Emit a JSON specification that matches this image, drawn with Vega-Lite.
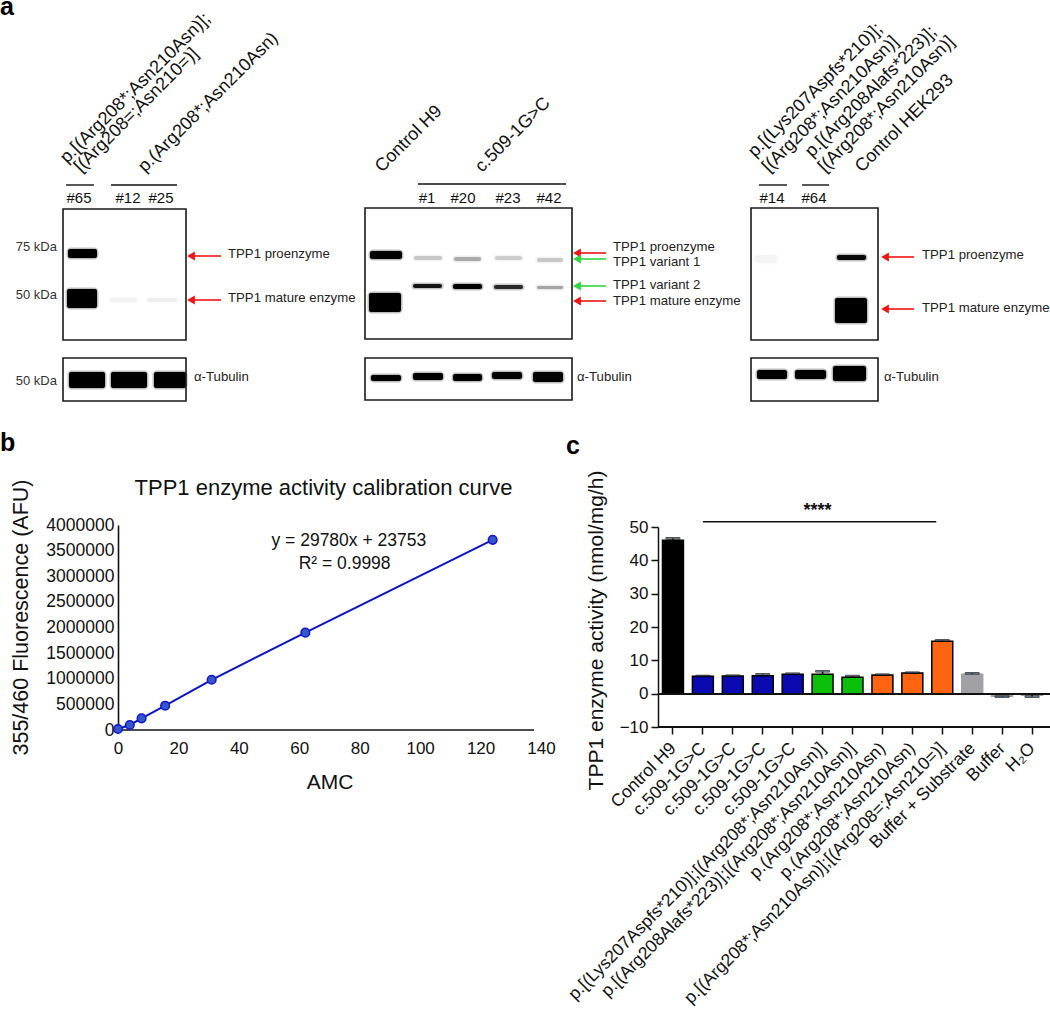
{"$schema":"https://vega.github.io/schema/vega-lite/v6.json","background":"white","padding":{"left":0,"top":-5,"right":0,"bottom":0},"bounds":"flush","spacing":62,"resolve":{"scale":{"color":"independent","stroke":"independent","opacity":"independent","fillOpacity":"independent"}},"config":{"view":{"stroke":null},"font":"Liberation Sans","axis":{"labelFont":"Liberation Sans","titleFont":"Liberation Sans","grid":false,"labelColor":"#111","titleColor":"#111","domainColor":"#111","tickColor":"#111"}},
"datasets":{
"frames":[{"x0":63,"x1":186,"top":208,"bottom":339},{"x0":63,"x1":186,"top":357,"bottom":400},{"x0":365,"x1":572,"top":207,"bottom":338},{"x0":365,"x1":572,"top":357,"bottom":399},{"x0":751,"x1":878,"top":207,"bottom":339},{"x0":751,"x1":878,"top":357,"bottom":400}],
"bands":[
{"lane":"#65","x0":68,"x1":97,"top":248,"bottom":257,"signal":1},{"lane":"#65","x0":67,"x1":97,"top":288,"bottom":307,"signal":1},{"lane":"#12","x0":110,"x1":137,"top":297,"bottom":301,"signal":0.04},{"lane":"#25","x0":147,"x1":177,"top":297,"bottom":301,"signal":0.05},
{"lane":"#65","x0":69,"x1":105,"top":371,"bottom":387,"signal":1},{"lane":"#12","x0":111,"x1":147,"top":371,"bottom":387,"signal":1},{"lane":"#25","x0":154,"x1":186,"top":371,"bottom":387,"signal":1},
{"lane":"H9","x0":370,"x1":402,"top":250,"bottom":258,"signal":1},{"lane":"H9","x0":369,"x1":401,"top":292,"bottom":311,"signal":1},
{"lane":"#1","x0":414,"x1":442,"top":255,"bottom":259,"signal":0.18},{"lane":"#20","x0":454,"x1":481,"top":256,"bottom":260,"signal":0.28},{"lane":"#23","x0":495,"x1":522,"top":255,"bottom":259,"signal":0.16},{"lane":"#42","x0":537,"x1":563,"top":257,"bottom":261,"signal":0.18},
{"lane":"#1","x0":413,"x1":442,"top":283,"bottom":287,"signal":0.9},{"lane":"#20","x0":453,"x1":482,"top":283,"bottom":288,"signal":1},{"lane":"#23","x0":494,"x1":523,"top":284,"bottom":288,"signal":0.8},{"lane":"#42","x0":537,"x1":563,"top":285,"bottom":288,"signal":0.3},
{"lane":"H9","x0":371,"x1":401,"top":374,"bottom":380,"signal":1},{"lane":"#1","x0":413,"x1":443,"top":372,"bottom":379,"signal":1},{"lane":"#20","x0":453,"x1":482,"top":373,"bottom":380,"signal":1},{"lane":"#23","x0":492,"x1":522,"top":371,"bottom":378,"signal":1},{"lane":"#42","x0":533,"x1":563,"top":371,"bottom":381,"signal":1},
{"lane":"#14","x0":755,"x1":777,"top":254,"bottom":262,"signal":0.03},
{"lane":"HEK293","x0":837,"x1":866,"top":254,"bottom":259,"signal":0.95},{"lane":"HEK293","x0":835,"x1":867,"top":297,"bottom":322,"signal":1},
{"lane":"#14","x0":757,"x1":787,"top":369,"bottom":378,"signal":1},{"lane":"#64","x0":795,"x1":826,"top":369,"bottom":378,"signal":1},{"lane":"HEK293","x0":833,"x1":866,"top":365,"bottom":380,"signal":1}],
"arrows":[{"tip":191,"tail":221,"at":255,"kind":"mature form"},{"tip":191,"tail":221,"at":299,"kind":"mature form"},{"tip":577,"tail":606,"at":252,"kind":"mature form"},{"tip":577,"tail":606,"at":258,"kind":"variant"},{"tip":577,"tail":606,"at":285,"kind":"variant"},{"tip":577,"tail":606,"at":300,"kind":"mature form"},{"tip":885,"tail":914,"at":256,"kind":"mature form"},{"tip":885,"tail":914,"at":308,"kind":"mature form"}],
"bars":[{"x0":66,"x1":94,"at":184},{"x0":111,"x1":177,"at":184},{"x0":418,"x1":566,"at":183},{"x0":759,"x1":787,"at":184},{"x0":802,"x1":829,"at":184}],
"bandNames":[{"x":228,"at":253,"t":"TPP1 proenzyme"},{"x":228,"at":297,"t":"TPP1 mature enzyme"},{"x":613,"at":246,"t":"TPP1 proenzyme"},{"x":613,"at":261,"t":"TPP1 variant 1"},{"x":613,"at":284,"t":"TPP1 variant 2"},{"x":613,"at":300,"t":"TPP1 mature enzyme"},{"x":922,"at":254,"t":"TPP1 proenzyme"},{"x":922,"at":307,"t":"TPP1 mature enzyme"},{"x":194,"at":376,"t":"α-Tubulin"},{"x":577,"at":376,"t":"α-Tubulin"},{"x":884,"at":376,"t":"α-Tubulin"}],
"sizes":[{"x":57,"at":246,"t":"75 kDa"},{"x":57,"at":294,"t":"50 kDa"},{"x":57,"at":380,"t":"50 kDa"}],
"laneNames":[{"x":79,"t":"#65","at":197},{"x":128,"t":"#12","at":197},{"x":161,"t":"#25","at":197},{"x":427,"t":"#1","at":197},{"x":463,"t":"#20","at":197},{"x":508,"t":"#23","at":197},{"x":549,"t":"#42","at":197},{"x":772,"t":"#14","at":197},{"x":814,"t":"#64","at":197}],
"genotypes":[{"x":67,"at":163,"t":"p.[(Arg208*;Asn210Asn)];"},{"x":81,"at":172,"t":"[(Arg208=;Asn210=)]"},{"x":145,"at":172,"t":"p.(Arg208*;Asn210Asn)"},{"x":382,"at":172,"t":"Control H9"},{"x":482,"at":172,"t":"c.509-1G>C"},{"x":755,"at":157,"t":"p.[(Lys207Aspfs*210)];"},{"x":769,"at":172,"t":"[(Arg208*;Asn210Asn)]"},{"x":812,"at":157,"t":"p.[(Arg208Alafs*223)];"},{"x":825,"at":172,"t":"[(Arg208*;Asn210Asn)]"},{"x":862,"at":172,"t":"Control HEK293"}],
"letters":[{"x":0,"at":14,"t":"a"},{"x":0,"at":450,"t":"b"},{"x":566,"at":453,"t":"c"}],
"calibration":[{"amc":0,"afu":20000},{"amc":3.9,"afu":98000},{"amc":7.8,"afu":228000},{"amc":15.6,"afu":474000},{"amc":31,"afu":980000},{"amc":62,"afu":1900000},{"amc":124,"afu":3710000}],
"activity":[{"id":1,"sample":"Control H9","group":"control","value":46,"hi":46.6},{"id":2,"sample":"c.509-1G>C","group":"c.509-1G>C","value":5.2,"hi":5.3},{"id":3,"sample":"c.509-1G>C","group":"c.509-1G>C","value":5.3,"hi":5.4},{"id":4,"sample":"c.509-1G>C","group":"c.509-1G>C","value":5.4,"hi":5.8},{"id":5,"sample":"c.509-1G>C","group":"c.509-1G>C","value":5.8,"hi":6},{"id":6,"sample":"p.[(Lys207Aspfs*210)];[(Arg208*;Asn210Asn)]","group":"compound","value":5.8,"hi":6.7},{"id":7,"sample":"p.[(Arg208Alafs*223)];[(Arg208*;Asn210Asn)]","group":"compound","value":4.9,"hi":5.3},{"id":8,"sample":"p.(Arg208*;Asn210Asn)","group":"p.(Arg208*;Asn210Asn)","value":5.6,"hi":5.7},{"id":9,"sample":"p.(Arg208*;Asn210Asn)","group":"p.(Arg208*;Asn210Asn)","value":6.2,"hi":6.3},{"id":10,"sample":"p.[(Arg208*;Asn210Asn)];[(Arg208=;Asn210=)]","group":"p.(Arg208*;Asn210Asn)","value":15.7,"hi":16},{"id":11,"sample":"Buffer + Substrate","group":"blank","value":5.8,"hi":6.1},{"id":12,"sample":"Buffer","group":"blank","value":-0.8,"hi":-0.9},{"id":13,"sample":"H₂O","group":"blank","value":-0.5,"hi":-0.9}]
},
"vconcat":[
{"width":1050,"height":460,"layer":[
{"data":{"name":"bands"},"mark":{"type":"rect","fill":"#000","stroke":"#000","strokeWidth":3,"cornerRadius":3},"encoding":{"x":{"field":"x0","type":"quantitative","scale":{"domain":[0,1050],"nice":false},"axis":null},"x2":{"field":"x1"},"y":{"field":"top","type":"quantitative","scale":{"domain":[460,0],"nice":false},"axis":null},"y2":{"field":"bottom"},"opacity":{"field":"signal","type":"quantitative","scale":{"domain":[0,1],"range":[0,0.25]},"legend":null}}},
{"data":{"name":"bands"},"mark":{"type":"rect","fill":"#000","cornerRadius":2},"encoding":{"x":{"field":"x0","type":"quantitative"},"x2":{"field":"x1"},"y":{"field":"top","type":"quantitative"},"y2":{"field":"bottom"},"fillOpacity":{"field":"signal","type":"quantitative","scale":{"domain":[0,1],"range":[0,1]},"legend":null}}},
{"data":{"name":"frames"},"mark":{"type":"rect","fill":null,"stroke":"#1a1a1a","strokeWidth":1.6},"encoding":{"x":{"field":"x0","type":"quantitative"},"x2":{"field":"x1"},"y":{"field":"top","type":"quantitative"},"y2":{"field":"bottom"}}},
{"data":{"name":"bars"},"mark":{"type":"rule","stroke":"#111","strokeWidth":1.4},"encoding":{"x":{"field":"x0","type":"quantitative"},"x2":{"field":"x1"},"y":{"field":"at","type":"quantitative"}}},
{"data":{"name":"arrows"},"mark":{"type":"rule","strokeWidth":1.6},"encoding":{"x":{"field":"tip","type":"quantitative"},"x2":{"field":"tail"},"y":{"field":"at","type":"quantitative"},"color":{"field":"kind","type":"nominal","scale":{"domain":["mature form","variant"],"range":["#f01414","#2fd83c"]},"legend":null}}},
{"data":{"name":"arrows"},"mark":{"type":"point","shape":"triangle-left","filled":true,"size":80,"opacity":1,"dx":3},"encoding":{"x":{"field":"tip","type":"quantitative"},"y":{"field":"at","type":"quantitative"},"color":{"field":"kind","type":"nominal","legend":null}}},
{"data":{"name":"bandNames"},"mark":{"type":"text","align":"left","baseline":"middle","fontSize":13.2,"fill":"#222"},"encoding":{"x":{"field":"x","type":"quantitative"},"y":{"field":"at","type":"quantitative"},"text":{"field":"t"}}},
{"data":{"name":"sizes"},"mark":{"type":"text","align":"right","baseline":"middle","fontSize":13,"fill":"#333"},"encoding":{"x":{"field":"x","type":"quantitative"},"y":{"field":"at","type":"quantitative"},"text":{"field":"t"}}},
{"data":{"name":"laneNames"},"mark":{"type":"text","align":"center","baseline":"middle","fontSize":15,"fill":"#111"},"encoding":{"x":{"field":"x","type":"quantitative"},"y":{"field":"at","type":"quantitative"},"text":{"field":"t"}}},
{"data":{"name":"genotypes"},"mark":{"type":"text","align":"left","baseline":"alphabetic","angle":-45,"fontSize":18,"fill":"#111"},"encoding":{"x":{"field":"x","type":"quantitative"},"y":{"field":"at","type":"quantitative"},"text":{"field":"t"}}},
{"data":{"name":"letters"},"mark":{"type":"text","align":"left","baseline":"alphabetic","fontSize":25,"fontWeight":"bold","fill":"#000"},"encoding":{"x":{"field":"x","type":"quantitative"},"y":{"field":"at","type":"quantitative"},"text":{"field":"t"}}}
]},
{"hconcat":[
{"data":{"values":[{"note":""}]},"width":1,"height":10,"mark":"text","encoding":{"text":{"field":"note"}}},
{"width":423,"height":207,"data":{"name":"calibration"},"layer":[
{"mark":{"type":"line","stroke":"#0a14c8","strokeWidth":2},"encoding":{"x":{"field":"amc","type":"quantitative","scale":{"domain":[0,140],"nice":false},"axis":{"title":"AMC","titleFontSize":21,"titleFontWeight":"normal","labelFontSize":17,"ticks":false,"domain":false,"labelPadding":10,"values":[0,20,40,60,80,100,120,140],"tickCount":20,"titlePadding":15,"labelBound":false,"labelFlush":false,"labelOverlap":false}},"y":{"field":"afu","type":"quantitative","scale":{"domain":[0,4000000],"range":[207,2],"nice":false},"axis":{"title":"355/460 Fluorescence (AFU)","titleFontSize":21.5,"titleFontWeight":"normal","labelFontSize":17.5,"ticks":false,"domain":true,"domainWidth":1.6,"labelPadding":4,"values":[0,500000,1000000,1500000,2000000,2500000,3000000,3500000,4000000],"tickCount":20,"format":"d","labelOverlap":false,"titleX":-86,"titleY":94}}}},
{"data":{"values":[{"amc":0,"end":137.7,"afu":0}]},"mark":{"type":"rule","stroke":"#111","strokeWidth":1.6},"encoding":{"x":{"field":"amc","type":"quantitative"},"x2":{"field":"end"},"y":{"field":"afu","type":"quantitative"}}},
{"mark":{"type":"point","filled":true,"size":75,"fill":"#3458c8","stroke":"#1414d0","strokeWidth":1.5,"opacity":1},"encoding":{"x":{"field":"amc","type":"quantitative"},"y":{"field":"afu","type":"quantitative"}}},
{"data":{"values":[{"amc":76.4,"afu":3690000,"t":"y = 29780x + 23753"},{"amc":75,"afu":3240000,"t":"R² = 0.9998"}]},"mark":{"type":"text","fontSize":17.5,"fill":"#111"},"encoding":{"x":{"field":"amc","type":"quantitative"},"y":{"field":"afu","type":"quantitative"},"text":{"field":"t"}}},
{"data":{"values":[{"amc":68,"afu":4720000,"t":"TPP1 enzyme activity calibration curve"}]},"mark":{"type":"text","fontSize":22,"fill":"#111"},"encoding":{"x":{"field":"amc","type":"quantitative"},"y":{"field":"afu","type":"quantitative"},"text":{"field":"t"}}}
]},
{"width":392,"height":204,"data":{"name":"activity"},"layer":[
{"mark":{"type":"bar","strokeWidth":1.5},"encoding":{"x":{"field":"id","type":"ordinal","scale":{"range":[0,389],"paddingInner":0.3,"paddingOuter":0.15},"axis":{"title":null,"domain":false,"labelAngle":-45,"labelAlign":"right","labelBaseline":"top","labelFontSize":17.5,"labelLimit":600,"labelOverlap":false,"labelBound":false,"tickWidth":1.5,"tickSize":7,"labelPadding":5,"labelOffset":-6,"labelExpr":"['Control H9','c.509-1G>C','c.509-1G>C','c.509-1G>C','c.509-1G>C','p.[(Lys207Aspfs*210)];[(Arg208*;Asn210Asn)]','p.[(Arg208Alafs*223)];[(Arg208*;Asn210Asn)]','p.(Arg208*;Asn210Asn)','p.(Arg208*;Asn210Asn)','p.[(Arg208*;Asn210Asn)];[(Arg208=;Asn210=)]','Buffer + Substrate','Buffer','H₂O'][datum.value-1]"}},"y":{"field":"value","type":"quantitative","scale":{"domain":[-10,50],"range":[204,4],"nice":false},"axis":{"title":"TPP1 enzyme activity (nmol/mg/h)","titleFontSize":21,"titleFontWeight":"normal","labelFontSize":17,"values":[-10,0,10,20,30,40,50],"tickCount":20,"labelOverlap":false,"tickWidth":1.5,"tickSize":7,"domainWidth":1.5,"labelPadding":3,"titleX":-52,"titleY":107}},"color":{"field":"group","type":"nominal","scale":{"domain":["control","c.509-1G>C","compound","p.(Arg208*;Asn210Asn)","blank"],"range":["#000000","#0a0ab0","#0ac00a","#ff6410","#a0a0a5"]},"legend":null},"stroke":{"field":"group","type":"nominal","scale":{"domain":["control","c.509-1G>C","compound","p.(Arg208*;Asn210Asn)","blank"],"range":["#000000","#000000","#000000","#000000","#a0a0a5"]},"legend":null}}},
{"mark":{"type":"rule","stroke":"#000","strokeWidth":1.5},"encoding":{"x":{"field":"id","type":"ordinal"},"y":{"field":"value","type":"quantitative"},"y2":{"field":"hi"}}},
{"mark":{"type":"tick","stroke":"#000","size":14,"thickness":1.5},"encoding":{"x":{"field":"id","type":"ordinal"},"y":{"field":"hi","type":"quantitative"}}},
{"mark":{"type":"rule","stroke":"#111","strokeWidth":1.5},"encoding":{"y":{"datum":0,"type":"quantitative"}}},
{"mark":{"type":"rule","stroke":"#111","strokeWidth":1.5},"encoding":{"y":{"datum":-10,"type":"quantitative"}}},
{"data":{"values":[{"id":2,"end":10,"level":51.6}]},"mark":{"type":"rule","stroke":"#111","strokeWidth":1.5,"x2Offset":-6},"encoding":{"x":{"field":"id","type":"ordinal"},"x2":{"field":"end"},"y":{"field":"level","type":"quantitative"}}},
{"data":{"values":[{"id":6,"level":54.8,"t":"****"}]},"mark":{"type":"text","fontSize":18,"fontWeight":"bold","fill":"#111","dx":-5},"encoding":{"x":{"field":"id","type":"ordinal"},"y":{"field":"level","type":"quantitative"},"text":{"field":"t"}}}
]}
],"spacing":117,"bounds":"flush"}
]}
